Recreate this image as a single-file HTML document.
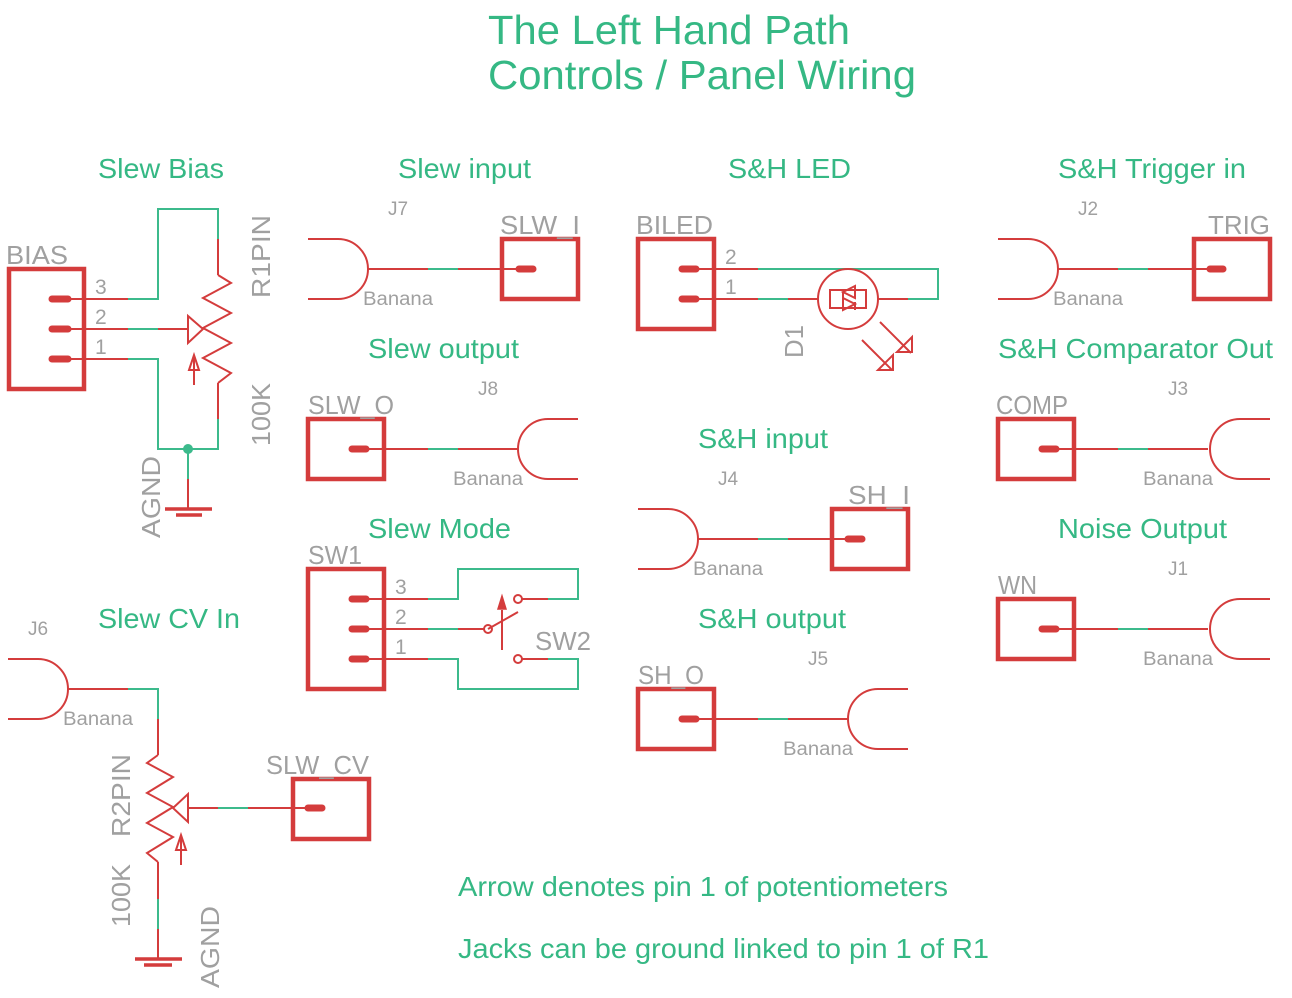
<!DOCTYPE html>
<html><head><meta charset="utf-8"><style>
html,body{margin:0;padding:0;background:#fff;}
svg{display:block;}
.t{font-family:"Liberation Sans",sans-serif;fill:#35b884;}
.g{font-family:"Liberation Sans",sans-serif;fill:#a0a0a0;}
.lbl{font-size:26px;}
.sm{font-size:19px;}
.r{stroke:#d43c3c;fill:none;stroke-width:2;}
.gr{stroke:#3cba8c;fill:none;stroke-width:2;}
.box{stroke:#d43c3c;fill:none;stroke-width:4.5;}
.pad{stroke:#d43c3c;stroke-width:7;stroke-linecap:round;}
</style></head><body>
<svg width="1292" height="998" viewBox="0 0 1292 998" xmlns="http://www.w3.org/2000/svg">
<text class="t" x="488" y="44" font-size="41" textLength="362" lengthAdjust="spacingAndGlyphs">The Left Hand Path</text>
<text class="t" x="488" y="89" font-size="41" textLength="428" lengthAdjust="spacingAndGlyphs">Controls / Panel Wiring</text>
<g class="t" font-size="28">
<text x="98" y="178" textLength="126" lengthAdjust="spacingAndGlyphs">Slew Bias</text>
<text x="398" y="178" textLength="133" lengthAdjust="spacingAndGlyphs">Slew input</text>
<text x="728" y="178" textLength="123" lengthAdjust="spacingAndGlyphs">S&amp;H LED</text>
<text x="1058" y="178" textLength="188" lengthAdjust="spacingAndGlyphs">S&amp;H Trigger in</text>
<text x="368" y="358" textLength="151" lengthAdjust="spacingAndGlyphs">Slew output</text>
<text x="998" y="358" textLength="275" lengthAdjust="spacingAndGlyphs">S&amp;H Comparator Out</text>
<text x="698" y="448" textLength="130" lengthAdjust="spacingAndGlyphs">S&amp;H input</text>
<text x="368" y="538" textLength="143" lengthAdjust="spacingAndGlyphs">Slew Mode</text>
<text x="1058" y="538" textLength="169" lengthAdjust="spacingAndGlyphs">Noise Output</text>
<text x="98" y="628" textLength="142" lengthAdjust="spacingAndGlyphs">Slew CV In</text>
<text x="698" y="628" textLength="148" lengthAdjust="spacingAndGlyphs">S&amp;H output</text>
<text x="458" y="896" textLength="490" lengthAdjust="spacingAndGlyphs">Arrow denotes pin 1 of potentiometers</text>
<text x="458" y="958" textLength="531" lengthAdjust="spacingAndGlyphs">Jacks can be ground linked to pin 1 of R1</text>
</g>

<!-- Slew Bias -->
<rect class="box" x="9" y="269" width="75" height="120"/>
<line class="pad" x1="52" y1="299" x2="68" y2="299"/>
<line class="pad" x1="52" y1="329" x2="68" y2="329"/>
<line class="pad" x1="52" y1="359" x2="68" y2="359"/>
<text class="g lbl" x="6" y="264" textLength="62" lengthAdjust="spacingAndGlyphs">BIAS</text>
<text class="g" font-size="21" x="95" y="294">3</text>
<text class="g" font-size="21" x="95" y="324">2</text>
<text class="g" font-size="21" x="95" y="354">1</text>
<path class="r" d="M68 299H128M68 329H128M68 359H128M158 329H188M218 239V275M218 383V419"/>
<path class="gr" d="M128 299H158V209H218V239M128 329H158M128 359H158V449H218V419M188 449V479"/>
<path class="r" d="M188 479V509"/>
<path class="r" stroke-width="3" d="M218 275L231 283L203 298L231 313L203 328L231 343L203 358L231 373L218 383"/>
<path class="r" stroke-width="3" d="M188 316L188 343L203 329Z"/>
<path class="r" d="M194 385V356M189 370L194 355L199 370Z"/>
<circle cx="188" cy="449" r="5" fill="#3cba8c"/>
<line x1="165" y1="509" x2="212" y2="509" stroke="#d43c3c" stroke-width="3.5"/>
<line x1="176" y1="515" x2="202" y2="515" stroke="#d43c3c" stroke-width="3.5"/>
<text class="g lbl" transform="translate(270,298) rotate(-90)" textLength="83" lengthAdjust="spacingAndGlyphs">R1PIN</text>
<text class="g lbl" transform="translate(270,446) rotate(-90)" textLength="63" lengthAdjust="spacingAndGlyphs">100K</text>
<text class="g lbl" transform="translate(160,538) rotate(-90)" textLength="82" lengthAdjust="spacingAndGlyphs">AGND</text>

<!-- Slew input J7 -->
<path class="r" d="M308 239H338A30 30 0 0 1 338 299H308M368 269H428M458 269H518"/>
<path class="gr" d="M428 269H458"/>
<rect class="box" x="502" y="239" width="76" height="60"/>
<line class="pad" x1="519" y1="269" x2="533" y2="269"/>
<text class="g lbl" x="500" y="234" textLength="80" lengthAdjust="spacingAndGlyphs">SLW_I</text>
<text class="g sm" x="388" y="215">J7</text>
<text class="g sm" x="363" y="305" textLength="70" lengthAdjust="spacingAndGlyphs">Banana</text>

<!-- S&H Trigger J2 -->
<path class="r" d="M998 239H1028A30 30 0 0 1 1028 299H998M1058 269H1118M1148 269H1208"/>
<path class="gr" d="M1118 269H1148"/>
<rect class="box" x="1194" y="239" width="76" height="60"/>
<line class="pad" x1="1210" y1="269" x2="1223" y2="269"/>
<text class="g lbl" x="1208" y="234" textLength="62" lengthAdjust="spacingAndGlyphs">TRIG</text>
<text class="g sm" x="1078" y="215">J2</text>
<text class="g sm" x="1053" y="305" textLength="70" lengthAdjust="spacingAndGlyphs">Banana</text>

<!-- Slew output J8 -->
<rect class="box" x="308" y="419" width="76" height="60"/>
<line class="pad" x1="352" y1="449" x2="366" y2="449"/>
<path class="r" d="M366 449H428M458 449H518M578 419H548A30 30 0 0 0 548 479H578"/>
<path class="gr" d="M428 449H458"/>
<text class="g lbl" x="308" y="414" textLength="86" lengthAdjust="spacingAndGlyphs">SLW_O</text>
<text class="g sm" x="478" y="395">J8</text>
<text class="g sm" x="453" y="485" textLength="70" lengthAdjust="spacingAndGlyphs">Banana</text>

<!-- COMP J3 -->
<rect class="box" x="998" y="419" width="76" height="60"/>
<line class="pad" x1="1042" y1="449" x2="1056" y2="449"/>
<path class="r" d="M1056 449H1118M1148 449H1208M1270 419H1240A30 30 0 0 0 1240 479H1270"/>
<path class="gr" d="M1118 449H1148"/>
<text class="g lbl" x="996" y="414" textLength="72" lengthAdjust="spacingAndGlyphs">COMP</text>
<text class="g sm" x="1168" y="395">J3</text>
<text class="g sm" x="1143" y="485" textLength="70" lengthAdjust="spacingAndGlyphs">Banana</text>

<!-- S&H input J4 -->
<path class="r" d="M638 509H668A30 30 0 0 1 668 569H638M698 539H758M788 539H848"/>
<path class="gr" d="M758 539H788"/>
<rect class="box" x="832" y="509" width="76" height="60"/>
<line class="pad" x1="848" y1="539" x2="862" y2="539"/>
<text class="g lbl" x="848" y="504" textLength="62" lengthAdjust="spacingAndGlyphs">SH_I</text>
<text class="g sm" x="718" y="485">J4</text>
<text class="g sm" x="693" y="575" textLength="70" lengthAdjust="spacingAndGlyphs">Banana</text>

<!-- WN J1 -->
<rect class="box" x="998" y="599" width="76" height="60"/>
<line class="pad" x1="1042" y1="629" x2="1056" y2="629"/>
<path class="r" d="M1056 629H1118M1148 629H1208M1270 599H1240A30 30 0 0 0 1240 659H1270"/>
<path class="gr" d="M1118 629H1148"/>
<text class="g lbl" x="998" y="594" textLength="39" lengthAdjust="spacingAndGlyphs">WN</text>
<text class="g sm" x="1168" y="575">J1</text>
<text class="g sm" x="1143" y="665" textLength="70" lengthAdjust="spacingAndGlyphs">Banana</text>

<!-- SH_O J5 -->
<rect class="box" x="638" y="689" width="76" height="60"/>
<line class="pad" x1="682" y1="719" x2="696" y2="719"/>
<path class="r" d="M696 719H758M788 719H848M908 689H878A30 30 0 0 0 878 749H908"/>
<path class="gr" d="M758 719H788"/>
<text class="g lbl" x="638" y="684" textLength="66" lengthAdjust="spacingAndGlyphs">SH_O</text>
<text class="g sm" x="808" y="665">J5</text>
<text class="g sm" x="783" y="755" textLength="70" lengthAdjust="spacingAndGlyphs">Banana</text>

<!-- BILED -->
<rect class="box" x="638" y="239" width="76" height="90"/>
<line class="pad" x1="682" y1="269" x2="696" y2="269"/>
<line class="pad" x1="682" y1="299" x2="696" y2="299"/>
<text class="g lbl" x="636" y="234" textLength="77" lengthAdjust="spacingAndGlyphs">BILED</text>
<text class="g" font-size="21" x="725" y="264">2</text>
<text class="g" font-size="21" x="725" y="294">1</text>
<path class="r" d="M696 269H758M696 299H758M788 299H818M878 299H908"/>
<path class="gr" d="M758 269H938V299H908M758 299H788"/>
<circle cx="848" cy="299" r="30" class="r" stroke-width="3"/>
<rect x="830" y="290" width="36" height="18" class="r" stroke-width="3"/>
<path class="r" stroke-width="2.5" d="M843 292V300M855 286L843 292L855 298ZM855 302V310M843 298L855 304L843 310Z"/>
<path class="r" stroke-width="3" d="M862 340L892 370M880 322L911 353M878 370H893V355ZM897 352H912V337Z"/>
<text class="g lbl" transform="translate(803,358) rotate(-90)" textLength="33" lengthAdjust="spacingAndGlyphs">D1</text>

<!-- SW1 -->
<rect class="box" x="308" y="569" width="76" height="120"/>
<line class="pad" x1="352" y1="599" x2="366" y2="599"/>
<line class="pad" x1="352" y1="629" x2="366" y2="629"/>
<line class="pad" x1="352" y1="659" x2="366" y2="659"/>
<text class="g lbl" x="308" y="564" textLength="54" lengthAdjust="spacingAndGlyphs">SW1</text>
<text class="g" font-size="21" x="395" y="594">3</text>
<text class="g" font-size="21" x="395" y="624">2</text>
<text class="g" font-size="21" x="395" y="654">1</text>
<path class="r" d="M366 599H428M366 629H428M366 659H428M458 629H484M522 599H548M522 659H548M488 629L518 612"/>
<path class="gr" d="M428 599H458V569H578V599H548M428 629H458M428 659H458V689H578V659H548"/>
<circle cx="488" cy="629" r="4" class="r" stroke-width="2.5"/>
<circle cx="518" cy="599" r="4" class="r" stroke-width="2.5"/>
<circle cx="518" cy="659" r="4" class="r" stroke-width="2.5"/>
<path class="r" d="M502 650V610"/>
<path d="M498 609L502 596L506 609Z" fill="#d43c3c" stroke="#d43c3c" stroke-width="1.5"/>
<text class="g lbl" x="535" y="650" textLength="56" lengthAdjust="spacingAndGlyphs">SW2</text>

<!-- Slew CV J6 -->
<path class="r" d="M8 659H38A30 30 0 0 1 38 719H8M68 689H128M158 719V755M158 862V899M158 929V959M188 808H218M248 808H308"/>
<path class="gr" d="M128 689H158V719M158 899V929M218 808H248"/>
<path class="r" stroke-width="3" d="M158 755L147 763L173 777L147 793L173 807L147 823L173 837L147 853L158 862"/>
<path class="r" stroke-width="3" d="M188 794L188 822L173 808Z"/>
<path class="r" d="M181 865V836M176 850L181 835L186 850Z"/>
<line x1="135" y1="959" x2="182" y2="959" stroke="#d43c3c" stroke-width="3.5"/>
<line x1="144" y1="965" x2="172" y2="965" stroke="#d43c3c" stroke-width="3.5"/>
<rect class="box" x="293" y="779" width="76" height="60"/>
<line class="pad" x1="308" y1="808" x2="322" y2="808"/>
<text class="g lbl" x="266" y="774" textLength="103" lengthAdjust="spacingAndGlyphs">SLW_CV</text>
<text class="g sm" x="28" y="635">J6</text>
<text class="g sm" x="63" y="725" textLength="70" lengthAdjust="spacingAndGlyphs">Banana</text>
<text class="g lbl" transform="translate(130,837) rotate(-90)" textLength="83" lengthAdjust="spacingAndGlyphs">R2PIN</text>
<text class="g lbl" transform="translate(130,927) rotate(-90)" textLength="63" lengthAdjust="spacingAndGlyphs">100K</text>
<text class="g lbl" transform="translate(219,988) rotate(-90)" textLength="82" lengthAdjust="spacingAndGlyphs">AGND</text>
</svg>
</body></html>
